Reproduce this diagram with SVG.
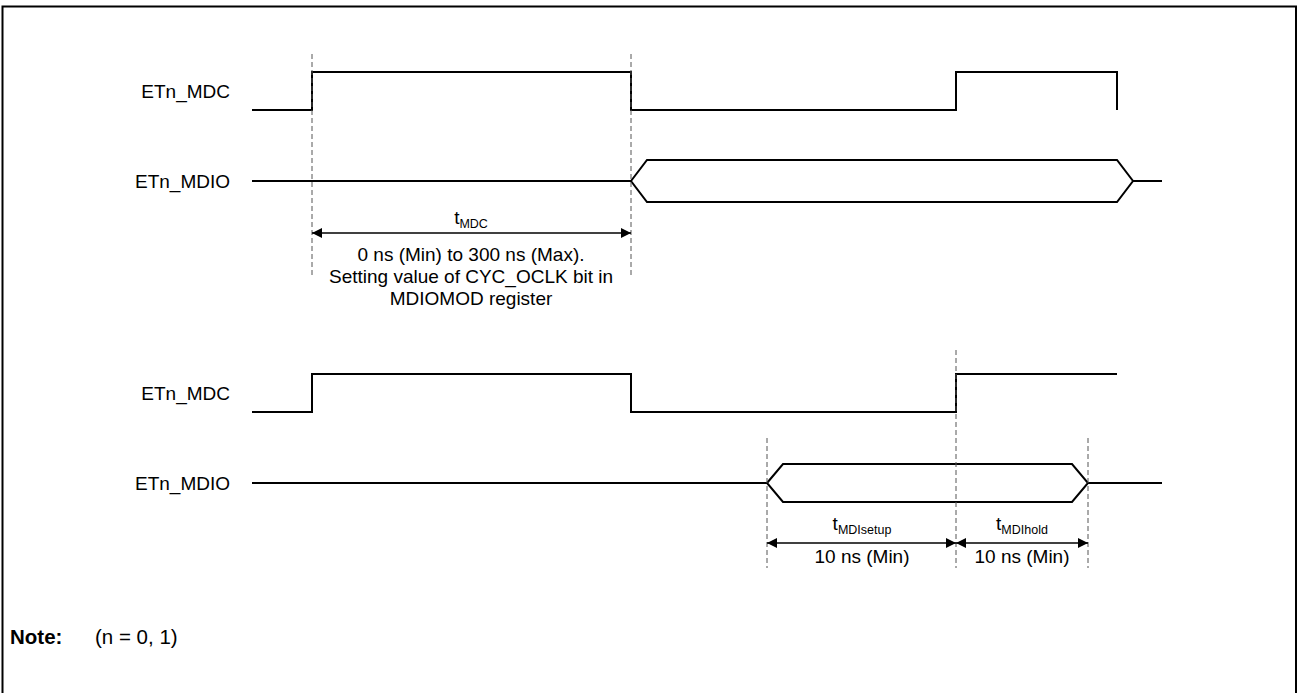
<svg xmlns="http://www.w3.org/2000/svg" width="1298" height="693" viewBox="0 0 1298 693">
<style>
text{font-family:"Liberation Sans",Arial,sans-serif;font-size:19px;fill:#000}
.lbl{text-anchor:end}
.mid{text-anchor:middle}
.sub{font-size:12.5px}
.note{font-size:20.5px}
.sig{fill:none;stroke:#000;stroke-width:2}
.dash{fill:none;stroke:#555;stroke-width:1;stroke-dasharray:5,3}
.dim{fill:none;stroke:#000;stroke-width:1.5}
</style>
<defs>
<marker id="ah" viewBox="0 0 10 10" refX="10" refY="5" markerWidth="11" markerHeight="10" markerUnits="userSpaceOnUse" orient="auto-start-reverse">
<path d="M0,0 L10,5 L0,10 Z" fill="#000"/>
</marker>
</defs>
<rect x="2.5" y="6.5" width="1293.5" height="700" fill="#fff" stroke="#000" stroke-width="2"/>
<g id="top-mdc">
<text class="lbl" x="230" y="98">ETn_MDC</text>
<path class="sig" d="M252,110 H312 V72 H631 V110 H956 V72 H1117 V110"/>
</g>
<g id="top-mdio">
<text class="lbl" x="230" y="188">ETn_MDIO</text>
<path class="sig" d="M252,181 H631"/>
<path class="sig" d="M631,181 L647,160 H1117 L1133,181 L1117,202 H647 Z"/>
<path class="sig" d="M1133,181 H1162"/>
</g>
<g id="bottom-mdc">
<text class="lbl" x="230" y="400">ETn_MDC</text>
<path class="sig" d="M252,412 H312 V374 H631 V412 H956 V374 H1117"/>
</g>
<g id="bottom-mdio">
<text class="lbl" x="230" y="490">ETn_MDIO</text>
<path class="sig" d="M252,483 H767"/>
<path class="sig" d="M767,483 L783,464 H1072 L1088,483 L1072,502 H783 Z"/>
<path class="sig" d="M1088,483 H1162"/>
</g>
<g id="connectors">
<path class="dash" d="M312,54 V275"/>
<path class="dash" d="M631,54 V275"/>
<path class="dash" d="M767,438 V568"/>
<path class="dash" d="M956,350 V568" stroke="#777"/>
<path class="dash" d="M1088,438 V568"/>
<path class="dim" d="M312,233 H631" marker-start="url(#ah)" marker-end="url(#ah)"/>
<path class="dim" d="M767,543 H956" marker-start="url(#ah)" marker-end="url(#ah)"/>
<path class="dim" d="M956,543 H1088" marker-start="url(#ah)" marker-end="url(#ah)"/>
</g>
<g id="tmdc-label">
<text class="mid" x="471" y="224">t<tspan class="sub" dy="4">MDC</tspan></text>
<text class="mid" x="471" y="261">0 ns (Min) to 300 ns (Max).</text>
<text class="mid" x="471" y="283">Setting value of CYC_OCLK bit in</text>
<text class="mid" x="471" y="305">MDIOMOD register</text>
</g>
<g id="setup-label">
<text class="mid" x="862" y="530">t<tspan class="sub" dy="4">MDIsetup</tspan></text>
<text class="mid" x="862" y="563">10 ns (Min)</text>
</g>
<g id="hold-label">
<text class="mid" x="1022" y="530">t<tspan class="sub" dy="4">MDIhold</tspan></text>
<text class="mid" x="1022" y="563">10 ns (Min)</text>
</g>
<g id="note">
<text class="note" x="10" y="644" font-weight="bold">Note:</text>
<text class="note" x="95" y="644">(n = 0, 1)</text>
</g>
</svg>
